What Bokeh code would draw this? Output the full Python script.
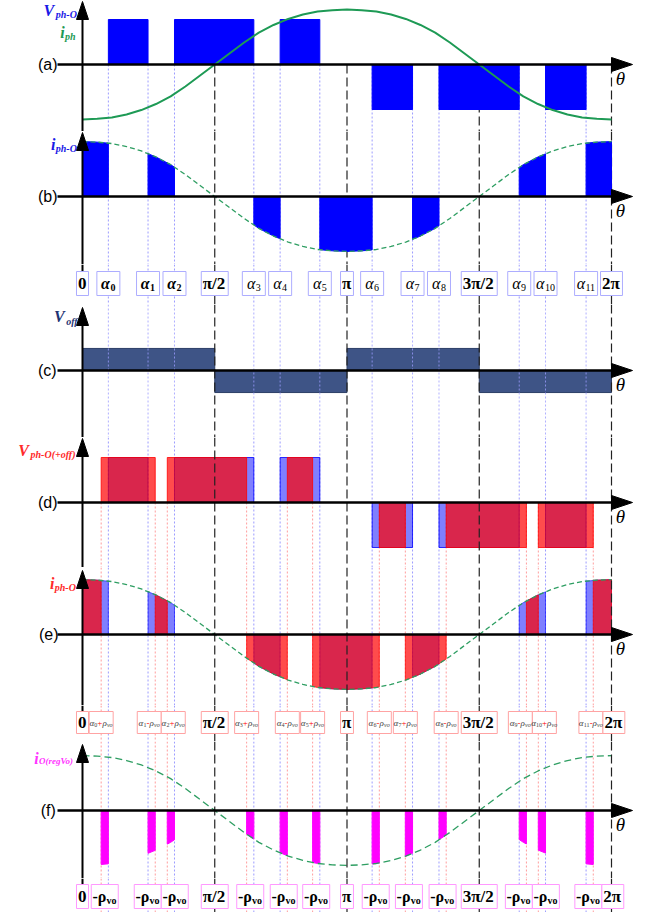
import numpy as np
from bokeh.plotting import figure
from bokeh.layouts import column
from bokeh.models import Range1d, ColumnDataSource
from bokeh.embed import file_html
from bokeh.resources import INLINE

# ------------------------------------------------------------------ data
THETA_DEG = [0, 10, 20, 30, 40, 50, 60, 70, 80, 90, 100, 110, 120, 130, 140, 150, 160, 170, 180,
             190, 200, 210, 220, 230, 240, 250, 260, 270, 280, 290, 300, 310, 320, 330, 340, 350, 360]
# phase current waveform (normalised, +1 at theta = 0)
I_PH_O = [1.00, 0.99, 0.965, 0.91, 0.83, 0.72, 0.58, 0.40, 0.20, 0.00,
          -0.20, -0.40, -0.58, -0.72, -0.83, -0.91, -0.965, -0.99, -1.00,
          -0.99, -0.965, -0.91, -0.83, -0.72, -0.58, -0.40, -0.20, 0.00,
          0.20, 0.40, 0.58, 0.72, 0.83, 0.91, 0.965, 0.99, 1.00]
I_PEAK = 1.22                      # current peak relative to the V_ph-O level
ALPHA_DEG = [17.6, 44.6, 62.6, 116.6, 134.5, 161.5, 197.1, 224.6, 242.6, 297.2, 315.1, 342.7]
ALPHA_NAMES = ["0", "1", "2", "3", "4", "5", "6", "7", "8", "9", "10", "11"]
RHO_VO_DEG = -4.9
RHO_SIGN = ["+", "-", "+", "+", "-", "+", "-", "+", "-", "-", "+", "-"]
V_PH_O = [0, 1, 0, 1, 0, 1, 0, -1, 0, -1, 0, -1, 0]      # level between successive edges
V_OFF_EDGES = [0, 90, 180, 270, 360]
V_OFF = [0.49, -0.49, 0.49, -0.49]
MAJOR_DEG = [0, 90, 180, 270, 360]
MAJOR_TXT = ["0", "π/2", "π", "3π/2", "2π"]

# ------------------------------------------------------------------ geometry / style
W = 649
DPX = 360 / 529
XS = (0 - 82) * DPX
XE = XS + W * DPX
UNIT = 45.0
BOUNDS = [0, 131, 264, 304, 437, 567, 705, 741, 878, 912]
HTS = [BOUNDS[i + 1] - BOUNDS[i] for i in range(len(BOUNDS) - 1)]

BLUE = "#0000FF"
GREEN = "#1E9A55"
GREEN_D = "#2E9E62"
NAVY = "#3E5486"
RED = "#FF0000"
MAG = "#FF00FF"
DOT_B = "#9C9CFF"
DOT_R = "#FF9C9C"
SERIF = "Liberation Serif"
SANS = "Liberation Sans"

EDGES = [0.0] + ALPHA_DEG + [360.0]
SHIFTED = [a + (1 if s == "+" else -1) * RHO_VO_DEG for a, s in zip(ALPHA_DEG, RHO_SIGN)]
EDGES_S = [0.0] + SHIFTED + [360.0]


def deg(px):
    return (px - 82) * DPX


def px_of(d):
    return 82 + d / DPX


CW = {'α': 0.55, 'π': 0.55, 'ρ': 0.5, '/': 0.28, '-': 0.33, '+': 0.56, '(': 0.33, ')': 0.33,
      'O': 0.72, 'V': 0.72, 'i': 0.28, 'p': 0.5, 'h': 0.5, 'o': 0.5, 'f': 0.33, 'r': 0.39,
      'e': 0.44, 'g': 0.5, 'v': 0.5, 'θ': 0.5, 'a': 0.5}


def tw(s, size, style):
    w = sum(CW.get(c, 0.5) for c in s) * size
    return w * (1.06 if "bold" in style else 1.0)


def new_store():
    return dict(x=[], y=[], text=[], xo=[], yo=[], size=[], color=[], style=[], font=[])


def rich(st, x, y, segs, align="center", font=SERIF):
    widths = [tw(t, sz, sty) for (t, sz, col, sty, dy) in segs]
    total = sum(widths)
    off = -total / 2 if align == "center" else (-total if align == "right" else 0)
    for (t, sz, col, sty, dy), w in zip(segs, widths):
        st['x'].append(x); st['y'].append(y); st['text'].append(t)
        st['xo'].append(off); st['yo'].append(dy); st['size'].append(f"{sz}px")
        st['color'].append(col); st['style'].append(sty); st['font'].append(font)
        off += w


def draw_store(p, st):
    p.text(x='x', y='y', text='text', x_offset='xo', y_offset='yo', text_font_size='size',
           text_color='color', text_font_style='style', text_font='font',
           text_align='left', text_baseline='middle', source=ColumnDataSource(st))


def mkfig(h, y0, y1):
    p = figure(width=W, height=h, x_range=Range1d(XS, XE), y_range=Range1d(y0, y1),
               output_backend="svg", toolbar_location=None, min_border=0,
               x_axis_location=None, y_axis_location=None, outline_line_color=None,
               background_fill_color="white", border_fill_color="white")
    p.xgrid.visible = False
    p.ygrid.visible = False
    return p


def vlines(p, xs, y0, y1, color, dash, width=1.0, alpha=1.0):
    n = len(xs)
    p.segment(x0=list(xs), y0=[y0] * n, x1=list(xs), y1=[y1] * n, line_color=color,
              line_dash=dash, line_width=width, line_alpha=alpha)


def curve_poly(a, b, neg_abs=False):
    inner = [t for t in THETA_DEG if a < t < b]
    xs = [a] + inner + [b]
    ys = np.interp(xs, THETA_DEG, I_PH_O) * I_PEAK
    if neg_abs:
        ys = -np.abs(ys)
    return [a] + xs + [b], [0.0] + list(ys) + [0.0]


def panel(idx, top, bottom, base):
    y0 = -(bottom - base) / UNIT
    y1 = (base - top) / UNIT
    p = mkfig(HTS[idx], y0, y1)
    return p, y0, y1


def axes(p, y0, tip_px, tag, st):
    tip = tip_px / UNIT
    p.segment(x0=[deg(57)], y0=[0], x1=[360], y1=[0], line_color="black", line_width=2.5)
    p.patch([360, deg(632), 360], [7 / UNIT, 0, -7 / UNIT], fill_color="black", line_color="black")
    p.segment(x0=[0], y0=[y0], x1=[0], y1=[tip - 8 / UNIT], line_color="black", line_width=2)
    p.patch([-6 * DPX, 0, 6 * DPX], [tip - 18 / UNIT, tip, tip - 18 / UNIT],
            fill_color="black", line_color="black")
    rich(st, deg(620), -14 / UNIT, [("θ", 19, "black", "italic", 0)], "center")
    rich(st, deg(56), 0, [(tag, 16, "black", "normal", 0)], "right", font=SANS)


figs = []

# ------------------------------------------------------------------ (a)
base = 64
pa, y0, y1 = panel(0, 0, 131, base)
st = new_store()
vlines(pa, ALPHA_DEG, 0, y0, DOT_B, "2 2")
vlines(pa, MAJOR_DEG[1:], 0, y0, "#222222", "9 4", 1.2)
lv = [(EDGES[i], EDGES[i + 1], V_PH_O[i]) for i in range(len(V_PH_O)) if V_PH_O[i] != 0]
pa.quad(left=[a for a, b, v in lv], right=[b for a, b, v in lv], bottom=[0] * len(lv),
        top=[v for a, b, v in lv], fill_color=BLUE, line_color=BLUE)
pa.line(THETA_DEG, [-v * I_PEAK for v in I_PH_O], line_color=GREEN, line_width=2)
axes(pa, y0, 63, "(a)", st)
rich(st, deg(77), (base - 10) / UNIT, [("V", 16, "#1A1AE6", "bold italic", 0),
                                        ("ph-O", 10, "#1A1AE6", "bold italic", 4)], "right")
rich(st, deg(75), (base - 32) / UNIT, [("i", 16, GREEN, "bold italic", 0),
                                        ("ph", 10, GREEN, "bold italic", 4)], "right")
draw_store(pa, st)
figs.append(pa)

# ------------------------------------------------------------------ (b)
base = 196
pb, y0, y1 = panel(1, 131, 264, base)
st = new_store()
vlines(pb, ALPHA_DEG, y1, y0, DOT_B, "2 2")
vlines(pb, MAJOR_DEG[1:], y1, y0, "#222222", "9 4", 1.2)
xs_l, ys_l = [], []
for i in range(len(V_PH_O)):
    if V_PH_O[i] == 0:
        xx, yy = curve_poly(EDGES[i], EDGES[i + 1])
        xs_l.append(xx); ys_l.append(yy)
pb.patches(xs_l, ys_l, fill_color=BLUE, line_color=BLUE)
pb.line(THETA_DEG, [v * I_PEAK for v in I_PH_O], line_color=GREEN_D, line_width=1.3, line_dash="5 3")
axes(pb, y0, 64, "(b)", st)
rich(st, deg(77), (base - 144) / UNIT, [("i", 16, "#1A1AE6", "bold italic", 0),
                                         ("ph-O", 10, "#1A1AE6", "bold italic", 4)], "right")
draw_store(pb, st)
figs.append(pb)


# ------------------------------------------------------------------ label rows
def spread(items):
    items.sort(key=lambda it: it[0])
    for _ in range(40):
        moved = False
        for i in range(len(items) - 1):
            a, b = items[i], items[i + 1]
            need = (a[1] + b[1]) / 2
            gap = b[0] - a[0]
            if gap < need - 0.01:
                d = (need - gap) / 2
                a[0] -= d; b[0] += d
                moved = True
        if not moved:
            break
    return items


def major_items():
    out = []
    for d, t in zip(MAJOR_DEG, MAJOR_TXT):
        out.append([px_of(d), tw(t, 17, "bold") + 3, [(t, 17, "black", "bold", 0)]])
    return out


def label_row(idx, top, bottom, yc, hbox, items, border, dots_b, dots_r):
    p = mkfig(HTS[idx], bottom, top)
    vlines(p, dots_b, top, bottom, DOT_B, "2 2")
    if dots_r:
        vlines(p, dots_r, top, bottom, DOT_R, "2 2")
    vlines(p, MAJOR_DEG[1:], top, bottom, "#222222", "solid", 1.2)
    p.segment(x0=[0], y0=[top], x1=[0], y1=[yc], line_color="black", line_width=2)
    spread(items)
    p.rect(x=[deg(it[0]) for it in items], y=[yc] * len(items), width=[it[1] for it in items],
           height=hbox, width_units="screen", height_units="screen",
           fill_color="white", line_color=border, line_width=1)
    st = new_store()
    for c, w, segs in items:
        rich(st, deg(c), yc, segs, "center")
    draw_store(p, st)
    return p


items1 = major_items()
for k, (a, nm) in enumerate(zip(ALPHA_DEG, ALPHA_NAMES)):
    sty = "bold italic" if k < 3 else "italic"
    sub = "bold" if k < 3 else "normal"
    items1.append([px_of(a), 23, [("α", 16, "black", sty, 0), (nm, 10, "black", sub, 4)]])
figs.append(label_row(2, 264, 304, 283, 24, items1, "#ADADFF", ALPHA_DEG, None))

# ------------------------------------------------------------------ (c)
base = 370
pc, y0, y1 = panel(3, 304, 437, base)
st = new_store()
pc.quad(left=V_OFF_EDGES[:-1], right=V_OFF_EDGES[1:], bottom=[0] * len(V_OFF), top=V_OFF,
        fill_color=NAVY, line_color="#2C3E66", line_width=1)
vlines(pc, ALPHA_DEG, y1, y0, DOT_B, "2 2", 1.0, 0.8)
vlines(pc, MAJOR_DEG[1:], y1, y0, "#222222", "9 4", 1.2)
axes(pc, y0, 63, "(c)", st)
rich(st, deg(78), (base - 316) / UNIT, [("V", 16, "#1F3473", "bold italic", 0),
                                         ("off", 10, "#1F3473", "bold italic", 5)], "right")
draw_store(pc, st)
figs.append(pc)

# ------------------------------------------------------------------ (d)
base = 502
pd_, y0, y1 = panel(4, 437, 567, base)
st = new_store()
vlines(pd_, ALPHA_DEG, y1, y0, DOT_B, "2 2")
vlines(pd_, SHIFTED, 0, y0, DOT_R, "2 2")
lv = [(EDGES[i], EDGES[i + 1], V_PH_O[i]) for i in range(len(V_PH_O)) if V_PH_O[i] != 0]
pd_.quad(left=[a for a, b, v in lv], right=[b for a, b, v in lv], bottom=[0] * len(lv),
         top=[v for a, b, v in lv], fill_color=BLUE, fill_alpha=0.5, line_color=BLUE, line_alpha=0.8)
ls = [(EDGES_S[i], EDGES_S[i + 1], V_PH_O[i]) for i in range(len(V_PH_O)) if V_PH_O[i] != 0]
pd_.quad(left=[a for a, b, v in ls], right=[b for a, b, v in ls], bottom=[0] * len(ls),
         top=[v for a, b, v in ls], fill_color=RED, fill_alpha=0.7, line_color=RED, line_alpha=0.8)
vlines(pd_, MAJOR_DEG[1:], y1, y0, "#222222", "9 4", 1.2)
axes(pd_, y0, 64, "(d)", st)
rich(st, deg(77), (base - 450) / UNIT, [("V", 16, "#FF2A2A", "bold italic", 0),
                                         ("ph-O(+off)", 10, "#FF2A2A", "bold italic", 4)], "right")
draw_store(pd_, st)
figs.append(pd_)

# ------------------------------------------------------------------ (e)
base = 634
pe, y0, y1 = panel(5, 567, 705, base)
st = new_store()
vlines(pe, ALPHA_DEG, y1, y0, DOT_B, "2 2")
vlines(pe, SHIFTED, y1, y0, DOT_R, "2 2")
xb, yb, xr, yr = [], [], [], []
for i in range(len(V_PH_O)):
    if V_PH_O[i] == 0:
        xx, yy = curve_poly(EDGES[i], EDGES[i + 1]); xb.append(xx); yb.append(yy)
        xx, yy = curve_poly(EDGES_S[i], EDGES_S[i + 1]); xr.append(xx); yr.append(yy)
pe.patches(xb, yb, fill_color=BLUE, fill_alpha=0.5, line_color=BLUE, line_alpha=0.6)
pe.patches(xr, yr, fill_color=RED, fill_alpha=0.7, line_color=RED, line_alpha=0.7)
pe.line(THETA_DEG, [v * I_PEAK for v in I_PH_O], line_color=GREEN_D, line_width=1.3, line_dash="5 3")
vlines(pe, MAJOR_DEG[1:], y1, y0, "#222222", "9 4", 1.2)
axes(pe, y0, 64, "(e)", st)
rich(st, deg(76), (base - 583) / UNIT, [("i", 16, "#FF2A2A", "bold italic", 0),
                                         ("ph-O", 10, "#FF2A2A", "bold italic", 4)], "right")
draw_store(pe, st)
figs.append(pe)

# ------------------------------------------------------------------ row 2
items2 = major_items()
for a, nm, sg in zip(SHIFTED, ALPHA_NAMES, RHO_SIGN):
    items2.append([px_of(a), 24, [("α", 9, "#444444", "italic", 0), (nm, 6, "#444444", "normal", 2),
                                  (sg, 9, RED, "normal", 0), ("ρ", 9, "#444444", "italic", 0),
                                  ("vo", 6, "#444444", "italic", 2)]])
figs.append(label_row(6, 705, 741, 722, 22, items2, "#FFA3A3", ALPHA_DEG, SHIFTED))

# ------------------------------------------------------------------ (f)
base = 810
pf, y0, y1 = panel(7, 741, 878, base)
st = new_store()
vlines(pf, ALPHA_DEG, y1, y0, DOT_B, "2 2")
vlines(pf, SHIFTED, y1, y0, DOT_R, "2 2")
xm, ym = [], []
for a, s in zip(ALPHA_DEG, SHIFTED):
    xx, yy = curve_poly(min(a, s), max(a, s), neg_abs=True)
    xm.append(xx); ym.append(yy)
pf.patches(xm, ym, fill_color=MAG, line_color=MAG)
pf.line(THETA_DEG, [v * I_PEAK for v in I_PH_O], line_color=GREEN_D, line_width=1.3, line_dash="7 4")
vlines(pf, MAJOR_DEG[1:], y1, y0, "#222222", "9 4", 1.2)
axes(pf, y0, 66, "(f)", st)
rich(st, deg(76), (base - 758) / UNIT, [("i", 16, "#FF33FF", "bold italic", 0),
                                         ("O(regVo)", 9, "#FF33FF", "bold italic", 2)], "right")
draw_store(pf, st)
figs.append(pf)

# ------------------------------------------------------------------ row 3
items3 = major_items()
for a, s in zip(ALPHA_DEG, SHIFTED):
    items3.append([px_of((a + s) / 2), 27, [("-ρ", 16, "black", "bold", 0), ("vo", 10, "black", "bold", 4)]])
figs.append(label_row(8, 878, 912, 896, 24, items3, "#FF99FF", ALPHA_DEG, SHIFTED))

layout = column(*figs, spacing=0)
open("out.html", "w").write(file_html(layout, INLINE))
